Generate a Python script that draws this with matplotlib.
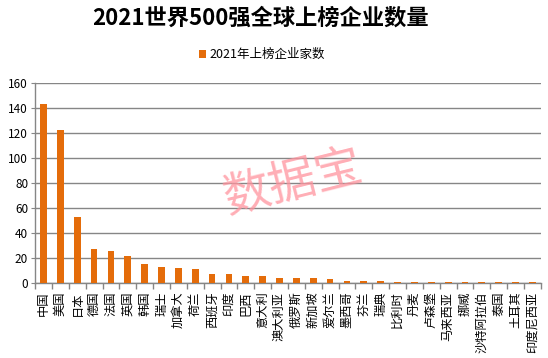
import matplotlib
matplotlib.use("Agg")
import matplotlib.pyplot as plt
import numpy as np

plt.rcParams['font.family'] = ['Noto Sans CJK SC', 'DejaVu Sans']

countries = ['中国', '美国', '日本', '德国', '法国', '英国', '韩国', '瑞士', '加拿大', '荷兰',
             '西班牙', '印度', '巴西', '意大利', '澳大利亚', '俄罗斯', '新加坡', '爱尔兰', '墨西哥', '芬兰',
             '瑞典', '比利时', '丹麦', '卢森堡', '马来西亚', '挪威', '沙特阿拉伯', '泰国', '土耳其', '印度尼西亚']
counts = [143, 122, 53, 27, 26, 22, 15, 13, 12, 11,
          7, 7, 6, 6, 4, 4, 4, 3, 2, 2,
          2, 1, 1, 1, 1, 1, 1, 1, 1, 1]
series_name = '2021年上榜企业家数'
title = '2021世界500强全球上榜企业数量'
yticks = [0, 20, 40, 60, 80, 100, 120, 140, 160]

orange = '#E46C0A'
grid_c = '#868686'

fig = plt.figure(figsize=(5.48, 3.58), dpi=100)
ax = fig.add_axes([0.064, 0.209, 0.923, 0.560])

x = np.arange(len(countries))
ax.bar(x, counts, width=0.4, color=orange, zorder=3, label=series_name)

ax.set_xlim(-0.5, len(countries) - 0.5)
ax.set_ylim(0, 160)
ax.set_yticks(yticks)
ax.yaxis.grid(True, color=grid_c, linewidth=1.0, zorder=0)
ax.tick_params(axis='y', labelsize=8.5, length=3, color=grid_c, pad=2)

# category labels rotated, reading bottom to top
ax.set_xticks(x)
ax.set_xticklabels(countries, fontsize=8.8, rotation=90, va='top', ha='center')
ax.tick_params(axis='x', which='major', length=0, pad=6)
ax.set_xticks(np.arange(-0.5, len(countries)), minor=True)
ax.tick_params(axis='x', which='minor', length=4, color=grid_c, width=1)

for s in ['top', 'right']:
    ax.spines[s].set_visible(False)
for s in ['left', 'bottom']:
    ax.spines[s].set_color(grid_c)
    ax.spines[s].set_linewidth(1.0)

fig.text(0.476, 0.948, title, ha='center', va='center', fontsize=16, fontweight='bold')
fig.legend(loc='center', bbox_to_anchor=(0.478, 0.847), frameon=False, fontsize=9,
           handlelength=0.6, handleheight=0.6, handletextpad=0.3)

# watermark
fig.text(0.535, 0.49, '数据宝', ha='center', va='center', fontsize=34, color='#FF939D',
         alpha=0.75, rotation=14)

fig.savefig('out.png', dpi=100)
